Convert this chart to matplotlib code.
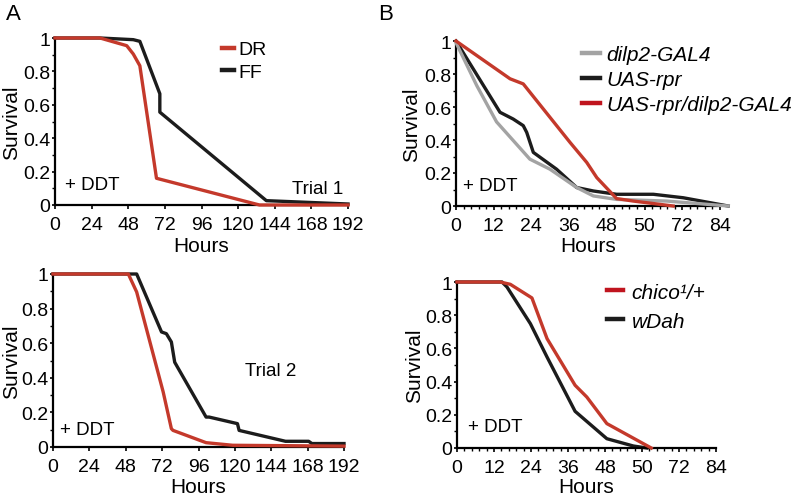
import matplotlib
matplotlib.use("Agg")
import matplotlib.pyplot as plt
from matplotlib.lines import Line2D
from matplotlib.ticker import AutoMinorLocator, FixedLocator, FixedFormatter

plt.rcParams['font.family'] = ['Liberation Sans', 'DejaVu Sans']

RED = '#c4392b'
RED_LEG = '#c0141e'
BLACK = '#1c1c1c'
GRAY = '#a3a3a3'

# ---- Panel A, Trial 1 ----
t1_dr_h = [0, 29.5, 47, 51.3, 55.6, 66.5, 134, 192]
t1_dr_s = [1.0, 1.0, 0.954, 0.904, 0.834, 0.16, 0.0, 0.0]
t1_ff_h = [0, 29.5, 51.3, 55.6, 68.7, 68.7, 138.5, 192]
t1_ff_s = [1.0, 1.0, 0.99, 0.98, 0.666, 0.556, 0.026, 0.006]

# ---- Panel A, Trial 2 ----
t2_dr_h = [0, 49.7, 55.2, 72.7, 78.1, 79.2, 101, 118.5, 192]
t2_dr_s = [1.0, 1.0, 0.896, 0.318, 0.106, 0.096, 0.025, 0.01, 0.005]
t2_ff_h = [0, 55.2, 71.6, 74.8, 78.1, 80.3, 101, 103, 121.7, 122.8, 153.4, 168.7, 170.8, 192]
t2_ff_s = [1.0, 1.0, 0.665, 0.655, 0.607, 0.49, 0.173, 0.173, 0.135, 0.096, 0.033, 0.033, 0.02, 0.02]

# ---- Panel B, top ----
dilp_h = [0, 6.6, 12.9, 23.5, 29.9, 38.4, 43.7, 51.1, 67, 86.6]
dilp_s = [0.99, 0.73, 0.51, 0.284, 0.223, 0.112, 0.061, 0.04, 0.03, 0.0]
uas_h = [0, 14, 18.2, 21.4, 22.5, 24.6, 32, 38.4, 43.7, 51.1, 62.8, 72.3, 86.6]
uas_s = [1.0, 0.568, 0.527, 0.487, 0.446, 0.325, 0.223, 0.112, 0.091, 0.071, 0.071, 0.05, 0.0]
cross_h = [0, 17.2, 21.4, 36.3, 41.6, 44.8, 51.1, 56.4, 69.1]
cross_s = [1.0, 0.771, 0.74, 0.385, 0.264, 0.172, 0.045, 0.03, 0.0]

# ---- Panel B, bottom ----
chico_h = [0, 14, 17.3, 24.3, 29.2, 38.3, 42.1, 48.6, 63.0]
chico_s = [1.0, 1.0, 0.986, 0.904, 0.659, 0.378, 0.307, 0.147, 0.0]
wdah_h = [0, 14.6, 16.2, 23.8, 29.2, 38.3, 48.6, 57.2, 61.6]
wdah_s = [1.0, 1.0, 0.97, 0.749, 0.548, 0.221, 0.056, 0.012, 0.0]

ytick_vals = [0, 0.2, 0.4, 0.6, 0.8, 1.0]
ytick_labels = ['0', '0.2', '0.4', '0.6', '0.8', '1']
xA_ticks = [0, 24, 48, 72, 96, 120, 144, 168, 192]
xA_labels = ['0', '24', '48', '72', '96', '120', '144', '168', '192']
xB_ticks = [0, 12, 24, 36, 48, 60, 72, 84]
xB_labels = ['0', '12', '24', '36', '48', '50', '72', '84']

W, H = 802, 502
fig = plt.figure(figsize=(W / 100, H / 100), dpi=100)


def mk_axes(x0, x1, ytop, ybot):
    return fig.add_axes([x0 / W, 1 - ybot / H, (x1 - x0) / W, (ybot - ytop) / H])


axA1 = mk_axes(55, 348, 39, 206)
axA2 = mk_axes(53, 344, 275, 448)
axB1 = mk_axes(456, 720, 42, 207)
axB2 = mk_axes(457, 716, 283, 449)


def style(ax, xt, xl, xmax, minor_x, ylab_x, xlab_y):
    for s in ['top', 'right']:
        ax.spines[s].set_visible(False)
    for s in ['left', 'bottom']:
        ax.spines[s].set_linewidth(1.6)
        ax.spines[s].set_color('black')
    ax.set_xlim(0, xmax)
    ax.set_ylim(0, 1)
    ax.xaxis.set_major_locator(FixedLocator(xt))
    ax.xaxis.set_major_formatter(FixedFormatter(xl))
    ax.yaxis.set_major_locator(FixedLocator(ytick_vals))
    ax.yaxis.set_major_formatter(FixedFormatter(ytick_labels))
    ax.yaxis.set_minor_locator(AutoMinorLocator(2))
    if minor_x:
        ax.xaxis.set_minor_locator(AutoMinorLocator(5))
    ax.tick_params(which='major', width=1.2, labelsize=14, direction='out')
    ax.tick_params(axis='x', which='major', length=3.2, pad=4.5)
    ax.tick_params(axis='y', which='major', length=2.4, pad=0.8)
    ax.tick_params(which='minor', length=2.2, width=1.0, direction='out')
    ax.set_ylabel('Survival', fontsize=15)
    ax.set_xlabel('Hours', fontsize=15)
    ax.yaxis.set_label_coords(ylab_x, 0.5)
    ax.xaxis.set_label_coords(0.5, xlab_y)
    ax.xaxis.label.set_va('center')
    ax.yaxis.label.set_va('center')


style(axA1, xA_ticks, xA_labels, 192, False, -0.147, -0.24)
style(axA2, xA_ticks, xA_labels, 192, False, -0.141, -0.231)
style(axB1, xB_ticks, xB_labels, 84, True, -0.167, -0.242)
style(axB2, xB_ticks, xB_labels, 84, True, -0.162, -0.229)

LW = 2.4
axA1.plot(t1_dr_h, t1_dr_s, color=RED, lw=LW, clip_on=False, zorder=3)
axA1.plot(t1_ff_h, t1_ff_s, color=BLACK, lw=LW, clip_on=False, zorder=2)
axA2.plot(t2_dr_h, t2_dr_s, color=RED, lw=LW, clip_on=False, zorder=3)
axA2.plot(t2_ff_h, t2_ff_s, color=BLACK, lw=LW, clip_on=False, zorder=2)
axB1.plot(dilp_h, dilp_s, color=GRAY, lw=LW, clip_on=False, zorder=3)
axB1.plot(uas_h, uas_s, color=BLACK, lw=LW, clip_on=False, zorder=2)
axB1.plot(cross_h, cross_s, color=RED, lw=LW, clip_on=False, zorder=4)
axB2.plot(chico_h, chico_s, color=RED, lw=LW, clip_on=False, zorder=3)
axB2.plot(wdah_h, wdah_s, color=BLACK, lw=LW, clip_on=False, zorder=2)

# legends
hA = [Line2D([], [], color=RED, lw=3.2), Line2D([], [], color=BLACK, lw=3.2)]
axA1.legend(hA, ['DR', 'FF'], loc='upper left', bbox_to_anchor=(0.569, 0.983),
            frameon=False, borderpad=0, borderaxespad=0, handlelength=0.62,
            handletextpad=0.26, labelspacing=0.24, fontsize=14)

hB1 = [Line2D([], [], color=GRAY, lw=3.2), Line2D([], [], color=BLACK, lw=3.2),
       Line2D([], [], color=RED_LEG, lw=3.2)]
axB1.legend(hB1, ['dilp2-GAL4', 'UAS-rpr', 'UAS-rpr/dilp2-GAL4'], loc='upper left',
            bbox_to_anchor=(0.476, 0.976), frameon=False, borderpad=0, borderaxespad=0,
            handlelength=0.87, handletextpad=0.32, labelspacing=0.29,
            prop={'size': 15, 'style': 'italic'})

hB2 = [Line2D([], [], color=RED_LEG, lw=3.2), Line2D([], [], color=BLACK, lw=3.2)]
axB2.legend(hB2, ['chico\u00b9/+', 'wDah'], loc='upper left',
            bbox_to_anchor=(0.578, 0.996), frameon=False, borderpad=0, borderaxespad=0,
            handlelength=0.8, handletextpad=0.4, labelspacing=0.48,
            prop={'size': 15, 'style': 'italic'})

# annotations
axA1.text(0.034, 0.12, '+ DDT', transform=axA1.transAxes, fontsize=13.5, va='center', ha='left')
axA2.text(0.024, 0.104, '+ DDT', transform=axA2.transAxes, fontsize=13.5, va='center', ha='left')
axB1.text(0.027, 0.123, '+ DDT', transform=axB1.transAxes, fontsize=13.5, va='center', ha='left')
axB2.text(0.042, 0.127, '+ DDT', transform=axB2.transAxes, fontsize=13.5, va='center', ha='left')
axA1.text(0.81, 0.096, 'Trial 1', transform=axA1.transAxes, fontsize=13.5, va='center', ha='left')
axA2.text(0.66, 0.44, 'Trial 2', transform=axA2.transAxes, fontsize=13.5, va='center', ha='left')

fig.text(13 / W, 1 - 14 / H, 'A', fontsize=16, ha='center', va='center')
fig.text(386 / W, 1 - 14 / H, 'B', fontsize=16, ha='center', va='center')

fig.savefig('out.png', dpi=100)
